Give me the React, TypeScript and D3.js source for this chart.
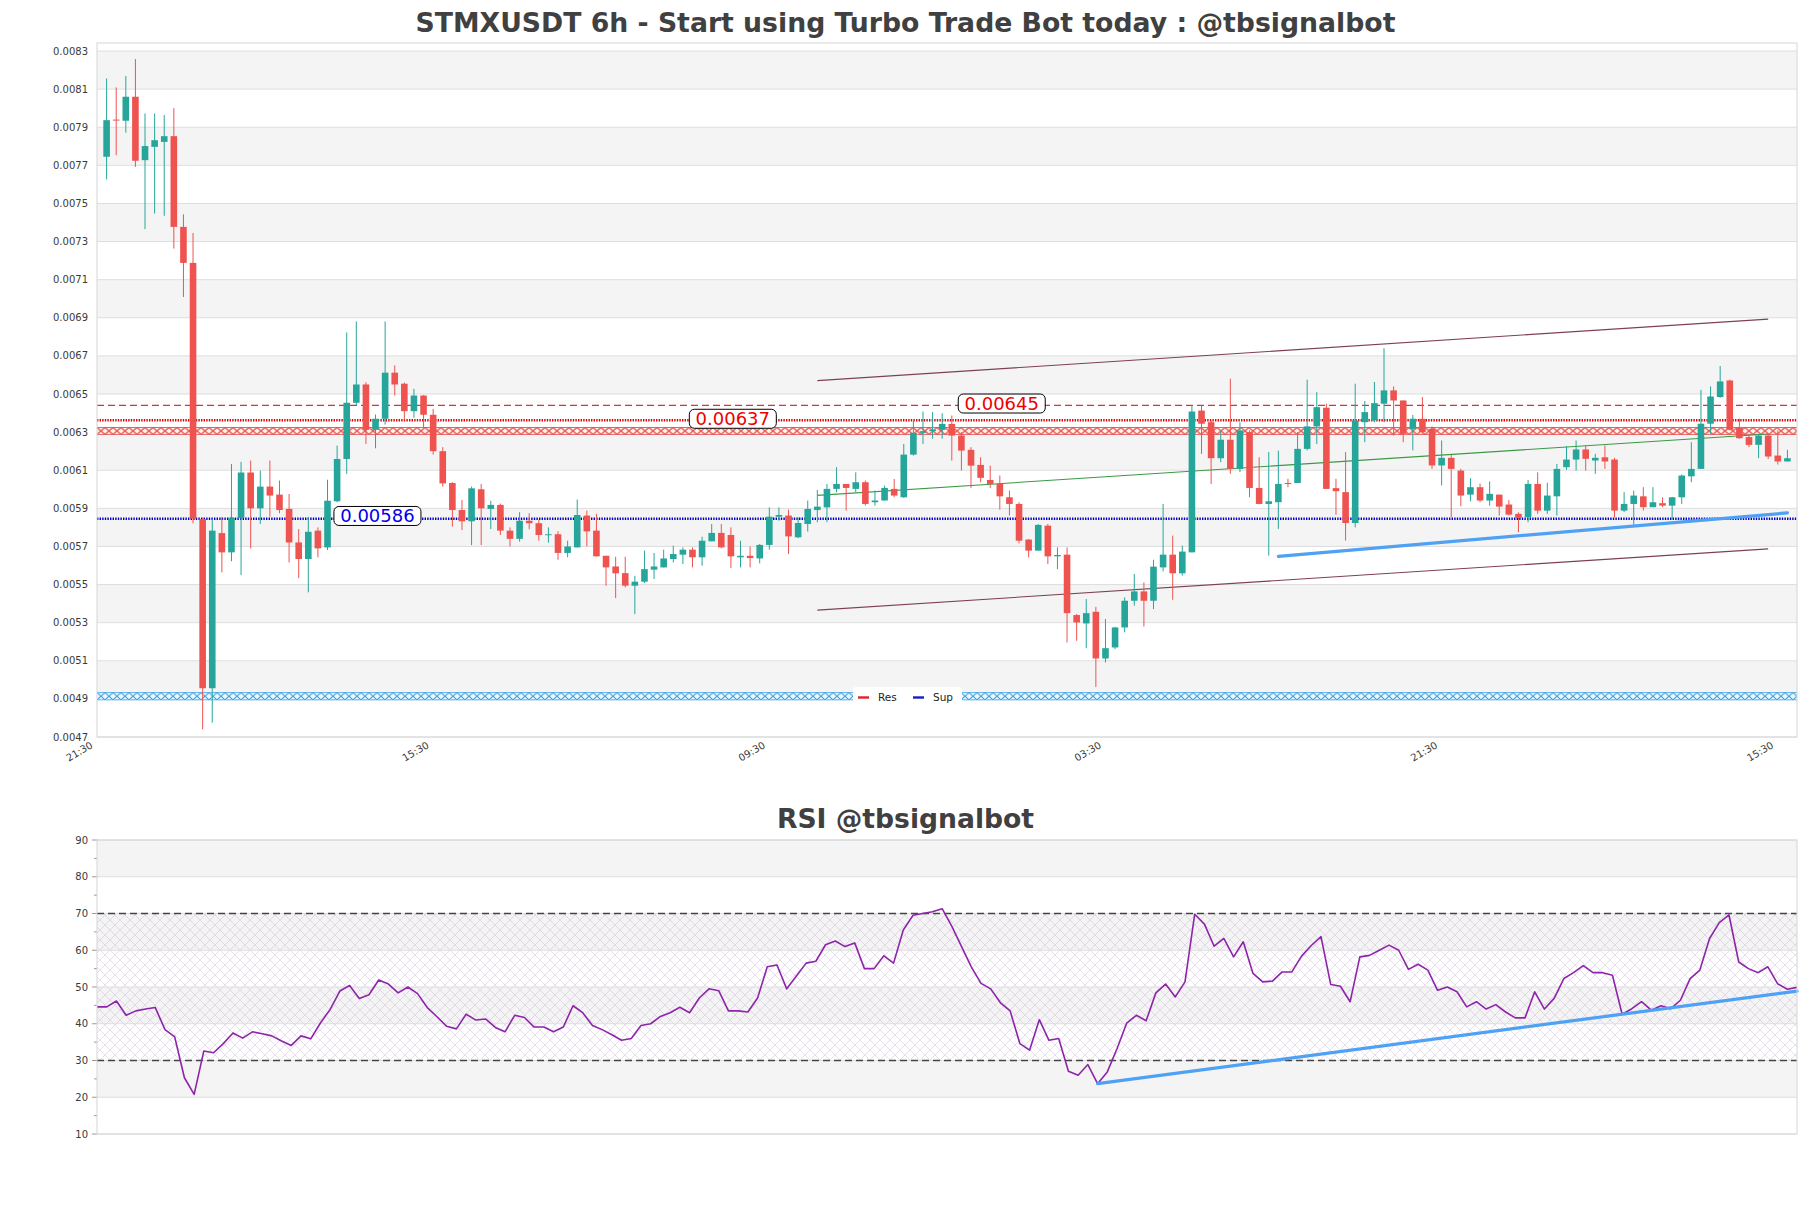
import React from "react";
import * as d3 from "d3";

// ---------------- DATA ----------------
const opens = [
  0.007745,0.00794,0.007934,0.00806,0.007727,0.007797,0.007823,0.007853,0.007377,0.007188,
  0.005844,0.004956,0.00577,0.005669,0.005849,0.006088,0.0059,0.006014,0.005972,0.005897,
  0.005721,0.005634,0.005783,0.005695,0.005937,0.006159,0.006454,0.00655,0.006312,0.00637,
  0.006612,0.006554,0.00641,0.006492,0.006391,0.0062,0.006033,0.005891,0.005832,0.006,
  0.005897,0.005918,0.005783,0.00574,0.005835,0.005822,0.00576,0.005764,0.005666,0.005695,
  0.005862,0.005783,0.005651,0.005595,0.00556,0.005494,0.005515,0.005578,0.00559,0.005634,
  0.005657,0.005683,0.005643,0.005727,0.005771,0.00576,0.005643,0.005651,0.005637,0.005708,
  0.005856,0.005862,0.005748,0.005818,0.005891,0.005905,0.006002,0.006028,0.006002,0.006037,
  0.005932,0.005941,0.006002,0.005958,0.006182,0.006296,0.006305,0.006312,0.006343,0.006282,
  0.006207,0.006128,0.006049,0.006028,0.005958,0.005923,0.005736,0.005678,0.005809,0.005648,
  0.005657,0.00534,0.005296,0.005357,0.005112,0.00517,0.005275,0.005415,0.005464,0.005415,
  0.00559,0.005657,0.005559,0.005669,0.006413,0.006352,0.006163,0.00626,0.006107,0.0063,
  0.006007,0.005923,0.005932,0.006033,0.006033,0.006212,0.00633,0.006428,0.006006,0.005985,
  0.005823,0.006352,0.006361,0.006449,0.006519,0.006466,0.006317,0.00637,0.006317,0.006125,
  0.006165,0.006098,0.005972,0.006011,0.005941,0.005972,0.00592,0.005871,0.005853,0.006028,
  0.005888,0.005963,0.006116,0.006156,0.006209,0.006151,0.006168,0.006156,0.005888,0.005923,
  0.005963,0.005906,0.005927,0.005914,0.005958,0.006068,0.006107,0.006344,0.006484,0.006571,
  0.006323,0.006274,0.006233,0.006282,0.006177,0.006146,
];
const highs = [
  0.008156,0.008109,0.008169,0.008258,0.007972,0.007972,0.007964,0.0080,0.007443,0.007345,
  0.00585,0.005844,0.005853,0.006133,0.006144,0.006151,0.006098,0.006151,0.006046,0.005975,
  0.005791,0.005853,0.0058,0.00605,0.006229,0.006823,0.006881,0.006562,0.006392,0.006881,
  0.00665,0.00656,0.006527,0.006494,0.006422,0.006221,0.006037,0.005944,0.006014,0.006028,
  0.00594,0.005925,0.0058,0.00588,0.005875,0.00584,0.0058,0.00578,0.00573,0.005946,
  0.005888,0.005871,0.005651,0.005646,0.005646,0.005546,0.005678,0.005666,0.005683,0.005704,
  0.005695,0.005695,0.005751,0.005818,0.005818,0.0058,0.00573,0.0057,0.005713,0.005905,
  0.005905,0.005893,0.005853,0.005941,0.005997,0.006028,0.006116,0.006028,0.006089,0.006046,
  0.005993,0.006019,0.006054,0.006238,0.006361,0.006408,0.006405,0.006399,0.006387,0.0063,
  0.006221,0.006168,0.006124,0.006072,0.005993,0.005932,0.005739,0.005818,0.005818,0.005695,
  0.005695,0.005345,0.005424,0.005383,0.005319,0.005278,0.005433,0.005555,0.005511,0.00563,
  0.005923,0.005757,0.005704,0.00644,0.00644,0.006361,0.006309,0.00658,0.006352,0.006309,
  0.006168,0.006195,0.006203,0.006055,0.0063,0.006575,0.00651,0.006449,0.006055,0.006195,
  0.006554,0.006463,0.006563,0.00674,0.00654,0.006466,0.00639,0.006484,0.00633,0.006256,
  0.00618,0.006107,0.006058,0.00603,0.006041,0.005972,0.005944,0.005879,0.006049,0.006089,
  0.006034,0.006133,0.006226,0.006256,0.00623,0.006186,0.00623,0.006165,0.005985,0.005993,
  0.006011,0.006011,0.005958,0.00596,0.006078,0.006247,0.006522,0.00654,0.006647,0.006575,
  0.00637,0.006285,0.00629,0.00629,0.006309,0.006207,
];
const lows = [
  0.007626,0.007753,0.007871,0.007692,0.007365,0.007447,0.007435,0.007263,0.007009,0.005821,
  0.00474,0.004775,0.005564,0.005622,0.00555,0.00569,0.005818,0.005856,0.005874,0.005616,
  0.005534,0.005459,0.005643,0.005681,0.005932,0.006081,0.00644,0.006238,0.006215,0.00634,
  0.006492,0.006361,0.006375,0.006326,0.006182,0.006014,0.005804,0.005786,0.005707,0.005707,
  0.005791,0.00576,0.0057,0.005725,0.00579,0.00573,0.00572,0.00563,0.005643,0.005695,
  0.0057,0.005648,0.005494,0.005429,0.005485,0.005345,0.005508,0.005529,0.00559,0.005616,
  0.005608,0.00559,0.005599,0.005727,0.00569,0.005587,0.00559,0.00559,0.005611,0.005683,
  0.005835,0.00566,0.005744,0.005778,0.005827,0.005827,0.005984,0.005888,0.005984,0.005914,
  0.005914,0.005941,0.005958,0.005955,0.006177,0.006238,0.006265,0.006265,0.006151,0.006098,
  0.006007,0.006037,0.006007,0.005893,0.005862,0.005716,0.005643,0.005678,0.005608,0.005581,
  0.005196,0.005205,0.005166,0.004963,0.005091,0.005161,0.005249,0.005389,0.00528,0.005371,
  0.005569,0.00542,0.005547,0.005669,0.006186,0.006028,0.006142,0.006081,0.00609,0.005958,
  0.005921,0.005652,0.005792,0.006011,0.006033,0.006204,0.006238,0.006002,0.005867,0.005731,
  0.0058,0.006247,0.006352,0.006352,0.006282,0.006247,0.006204,0.006291,0.006107,0.00602,
  0.005853,0.005911,0.005937,0.005932,0.005914,0.005862,0.005862,0.005774,0.005827,0.005871,
  0.005871,0.005862,0.006102,0.006098,0.006098,0.006081,0.006107,0.005853,0.00588,0.005809,
  0.005888,0.005906,0.005906,0.005844,0.005923,0.006037,0.006107,0.006291,0.00648,0.006309,
  0.006265,0.006221,0.006163,0.006159,0.00613,0.006146,
];
const closes = [
  0.007937,0.007935,0.00806,0.007724,0.007801,0.007832,0.007853,0.007377,0.007188,0.005846,
  0.004956,0.005783,0.005669,0.005849,0.006088,0.0059,0.006014,0.005967,0.005891,0.005721,
  0.005634,0.005777,0.00569,0.00594,0.006159,0.006454,0.00655,0.006312,0.00637,0.006612,
  0.00655,0.00641,0.006492,0.006391,0.0062,0.006031,0.005891,0.005832,0.006005,0.0059,
  0.005918,0.005783,0.00574,0.005835,0.005822,0.00576,0.005764,0.005666,0.0057,0.005865,
  0.005779,0.005648,0.00559,0.005559,0.005494,0.005515,0.005581,0.005595,0.005637,0.00566,
  0.005683,0.005643,0.00573,0.005771,0.005695,0.005648,0.005651,0.005639,0.005708,0.005856,
  0.005865,0.005753,0.005823,0.005897,0.005909,0.006002,0.006028,0.006007,0.006037,0.005923,
  0.005941,0.006007,0.005967,0.006182,0.006296,0.006305,0.006312,0.006343,0.006282,0.006203,
  0.006124,0.00606,0.006028,0.005963,0.005923,0.00573,0.005678,0.005813,0.005648,0.005655,
  0.00535,0.005301,0.00535,0.005112,0.005166,0.005275,0.005415,0.005464,0.005415,0.005594,
  0.005657,0.005559,0.005673,0.006408,0.006344,0.006163,0.00626,0.006107,0.006309,0.006007,
  0.005923,0.005937,0.006028,0.006028,0.006212,0.00633,0.006431,0.006002,0.00599,0.005823,
  0.006361,0.006405,0.006452,0.006519,0.006466,0.006291,0.00637,0.0063,0.006125,0.006165,
  0.006107,0.005967,0.006011,0.005941,0.005976,0.005909,0.005867,0.00585,0.006028,0.005888,
  0.005967,0.006107,0.006156,0.006209,0.00616,0.006165,0.006146,0.005888,0.005923,0.005967,
  0.005906,0.005932,0.005914,0.005958,0.006072,0.006107,0.006344,0.006487,0.006566,0.006312,
  0.006268,0.006233,0.006282,0.006172,0.006146,0.006163,
];
const rsiValues = [
  44.6,44.6,46.2,42.3,43.5,44.0,44.4,38.4,36.4,25.3,
  20.8,32.6,32.1,34.6,37.5,36.1,37.8,37.3,36.7,35.3,
  34.1,36.7,35.9,40.2,43.9,48.9,50.4,46.9,47.9,51.9,
  50.8,48.4,50.0,48.2,44.4,41.9,39.3,38.6,42.6,41.0,
  41.3,39.0,37.8,42.3,41.7,39.1,39.1,37.8,39.1,44.9,
  43.0,39.5,38.4,37.0,35.5,36.0,39.5,40.0,42.0,43.0,
  44.5,43.0,47.0,49.5,49.0,43.5,43.5,43.2,47.0,55.5,
  56.0,49.5,53.0,56.5,57.0,61.5,62.5,61.0,62.0,55.0,
  55.0,58.5,56.5,65.5,69.5,70.0,70.5,71.3,66.5,61.0,
  55.5,51.0,49.5,45.7,43.5,34.6,32.8,41.1,35.5,36.0,
  27.1,26.0,28.9,23.7,26.9,33.2,40.2,42.3,40.8,48.4,
  50.8,47.3,51.4,69.8,67.1,61.1,63.2,58.2,62.3,53.7,
  51.4,51.6,54.1,54.1,58.4,61.3,63.7,50.7,50.2,46.0,
  58.2,58.6,60.0,61.4,60.0,54.8,56.2,54.6,49.1,50.0,
  48.7,44.6,46.0,44.0,45.2,43.2,41.6,41.6,48.7,44.0,
  46.9,52.3,53.9,55.8,53.9,53.9,53.2,42.6,44.1,46.0,
  43.7,44.9,44.1,46.4,52.3,54.6,63.2,67.5,69.6,56.8,
  55.0,53.9,55.5,50.9,49.4,49.9,
];
const xTickLabels = ["21:30", "15:30", "09:30", "03:30", "21:30", "15:30"];
const xTickStep = 35; // candles between date labels
const priceTicks = [0.0047,0.0049,0.0051,0.0053,0.0055,0.0057,0.0059,0.0061,0.0063,0.0065,0.0067,0.0069,0.0071,0.0073,0.0075,0.0077,0.0079,0.0081,0.0083];
const rsiTicks = [10, 20, 30, 40, 50, 60, 70, 80, 90];
const rsiMinorTicks = [15, 25, 35, 45, 55, 65, 75, 85];

const resDashLevel = 0.00644;
const resDotLevel = 0.006362;
const resZone = [0.006288, 0.006324];
const supDotLevel = 0.005845;
const supZone = [0.004895, 0.004933];

const channelUpper = [{ i: 74, v: 0.00657 }, { i: 173, v: 0.006893 }];
const channelLower = [{ i: 74, v: 0.005366 }, { i: 173, v: 0.005687 }];
const channelMid = [{ i: 74, v: 0.005968 }, { i: 173, v: 0.00629 }];
const priceTrend = [{ i: 122, v: 0.005648 }, { i: 175, v: 0.005876 }];
const rsiTrend = [{ i: 103, v: 23.7 }, { i: 175, v: 48.9 }];

const priceLabels = [
  { text: "0.00586", i: 28.2, v: 0.00586, color: "#0000ee" },
  { text: "0.00637", i: 65.2, v: 0.00637, color: "#ee0000" },
  { text: "0.00645", i: 93.2, v: 0.00645, color: "#ee0000" },
];

// ---------------- LAYOUT ----------------
const W = 1811, H = 1208;
const PL = 97, PR = 1797, PT = 43, PB = 737;
const RT = 840, RB = 1134;
const FONT = "DejaVu Sans, Verdana, sans-serif";
const GREEN = "#26a69a", RED = "#ef5350";

export default function App() {
  const N = opens.length;
  const x = d3.scaleLinear().domain([-1, N]).range([PL, PR]);
  const y = d3.scaleLinear().domain([0.0047, 0.0083]).range([737, 51]);
  const xr = d3.scaleLinear().domain([0, N - 1]).range([PL, PR]);
  const yr = d3.scaleLinear().domain([10, 90]).range([RB, RT]);
  const fmt = d3.format(".4f");

  const bodyW = 6.6;
  const grayBands = priceTicks.filter((_, k) => k % 2 === 1 && k < priceTicks.length - 1);

  const lineP = d3.line<{ i: number; v: number }>().x((d) => x(d.i)).y((d) => y(d.v));
  const lineR = d3.line<{ i: number; v: number }>().x((d) => xr(d.i)).y((d) => yr(d.v));
  const rsiPath = d3.line<number>().x((_, i) => xr(i)).y((d) => yr(d))(rsiValues) || "";

  const resTop = y(resZone[1]), resBot = y(resZone[0]);
  const supTop = y(supZone[1]), supBot = y(supZone[0]);
  const resH = resBot - resTop, supH = supBot - supTop;
  const PW = 8;

  return (
    <svg width={W} height={H} style={{ position: "absolute", left: 0, top: 0, background: "#fff" }} fontFamily={FONT}>
      <defs>
        <pattern id="resHatch" patternUnits="userSpaceOnUse" x={PL} y={resTop} width={PW} height={resH}>
          <path d={`M0,0L${PW},${resH}M0,${resH}L${PW},0`} stroke="#e23b3b" strokeWidth={1.1} fill="none" />
        </pattern>
        <pattern id="supHatch" patternUnits="userSpaceOnUse" x={PL} y={supTop} width={PW} height={supH}>
          <path d={`M0,0L${PW},${supH}M0,${supH}L${PW},0`} stroke="#3a9fe0" strokeWidth={1.1} fill="none" />
        </pattern>
        <pattern id="rsiHatch" patternUnits="userSpaceOnUse" width={10} height={10}>
          <path d="M0,0L10,10M10,0L0,10" stroke="#c6b2d3" strokeWidth={0.6} fill="none" />
        </pattern>
        <clipPath id="priceClip"><rect x={PL} y={PT} width={PR - PL} height={PB - PT} /></clipPath>
      </defs>
      <rect x={0} y={0} width={W} height={H} fill="#fff" />

      {/* Titles */}
      <text x={W / 2} y={32} textAnchor="middle" fontSize={26.7} fontWeight="bold" fill="#404040">
        STMXUSDT 6h - Start using Turbo Trade Bot today : @tbsignalbot
      </text>
      <text x={W / 2} y={828} textAnchor="middle" fontSize={26.6} fontWeight="bold" fill="#404040">
        RSI @tbsignalbot
      </text>

      {/* ---------- PRICE PANEL ---------- */}
      {grayBands.map((t) => (
        <rect key={"b" + t} x={PL} y={y(t + 0.0002)} width={PR - PL} height={y(t) - y(t + 0.0002)} fill="#f4f4f4" />
      ))}
      {priceTicks.map((t) => (
        <line key={"g" + t} x1={PL} x2={PR} y1={y(t)} y2={y(t)} stroke="#dedede" strokeWidth={1} />
      ))}
      {priceTicks.map((t) => (
        <text key={"t" + t} x={88} y={y(t)} dy="0.35em" textAnchor="end" fontSize={10} fill="#3a3a3a">
          {fmt(t)}
        </text>
      ))}

      <g clipPath="url(#priceClip)">
        {/* zones */}
        <rect x={PL} y={resTop} width={PR - PL} height={resH} fill="#fff3ec" />
        <rect x={PL} y={resTop} width={PR - PL} height={resH} fill="url(#resHatch)" />
        <line x1={PL} x2={PR} y1={resTop} y2={resTop} stroke="#e23b3b" strokeWidth={0.8} />
        <line x1={PL} x2={PR} y1={resBot} y2={resBot} stroke="#e23b3b" strokeWidth={0.8} />
        <rect x={PL} y={supTop} width={PR - PL} height={supH} fill="#eef7fd" />
        <rect x={PL} y={supTop} width={PR - PL} height={supH} fill="url(#supHatch)" />
        <line x1={PL} x2={PR} y1={supTop} y2={supTop} stroke="#3a9fe0" strokeWidth={0.8} />
        <line x1={PL} x2={PR} y1={supBot} y2={supBot} stroke="#3a9fe0" strokeWidth={0.8} />

        {/* levels */}
        <line x1={PL} x2={PR} y1={y(resDashLevel)} y2={y(resDashLevel)} stroke="#e03030" strokeWidth={1.3} strokeDasharray="7,4" />
        <line x1={PL} x2={PR} y1={y(resDotLevel)} y2={y(resDotLevel)} stroke="#e00000" strokeWidth={2.4} strokeDasharray="1.4,1.2" />
        <line x1={PL} x2={PR} y1={y(supDotLevel)} y2={y(supDotLevel)} stroke="#0000cc" strokeWidth={2.4} strokeDasharray="1.4,1.2" />

        {/* channel */}
        <path d={lineP(channelUpper) || ""} stroke="#7f4050" strokeWidth={1.1} fill="none" />
        <path d={lineP(channelLower) || ""} stroke="#7f4050" strokeWidth={1.1} fill="none" />
        <path d={lineP(channelMid) || ""} stroke="#3a9a45" strokeWidth={1.1} fill="none" />

        {/* candles */}
        {opens.map((o, i) => {
          const c = closes[i];
          const hi = Math.max(highs[i], o, c);
          const lo = Math.min(lows[i], o, c);
          const col = c >= o ? GREEN : RED;
          const top = y(Math.max(o, c));
          const bh = Math.max(1, y(Math.min(o, c)) - top);
          return (
            <g key={"c" + i}>
              <line x1={x(i)} x2={x(i)} y1={y(hi)} y2={y(lo)} stroke={col} strokeWidth={1} />
              <rect x={x(i) - bodyW / 2} y={top} width={bodyW} height={bh} fill={col} />
            </g>
          );
        })}

        {/* support trend */}
        <path d={lineP(priceTrend) || ""} stroke="#4ea1f3" strokeWidth={3.2} fill="none" strokeLinecap="round" />
      </g>

      {/* price labels */}
      {priceLabels.map((l) => {
        const w = 87, h = 19;
        const cx = x(l.i), cy = y(l.v);
        return (
          <g key={l.text}>
            <rect x={cx - w / 2} y={cy - h / 2} width={w} height={h} rx={5} fill="#fff" stroke="#000" strokeWidth={1} />
            <text x={cx} y={cy} dy="0.36em" textAnchor="middle" fontSize={18} fill={l.color}>{l.text}</text>
          </g>
        );
      })}

      {/* legend */}
      <g>
        <rect x={853} y={687} width={109} height={20} rx={3} fill="#fff" />
        <line x1={858} x2={869} y1={697.5} y2={697.5} stroke="#dd2222" strokeWidth={2.4} />
        <text x={878} y={701} fontSize={10.5} fill="#222">Res</text>
        <line x1={913} x2={924} y1={697.5} y2={697.5} stroke="#1a1acc" strokeWidth={2.4} />
        <text x={933} y={701} fontSize={10.5} fill="#222">Sup</text>
      </g>

      <rect x={PL} y={PT} width={PR - PL} height={PB - PT} fill="none" stroke="#d6d6d6" strokeWidth={1} />

      {/* x tick labels */}
      {xTickLabels.map((lab, k) => {
        const tx = x(-1 + k * xTickStep);
        return (
          <text key={"x" + k} transform={`translate(${tx - 7},${741}) rotate(-30)`} textAnchor="end" dominantBaseline="hanging" fontSize={10} fill="#3a3a3a">
            {lab}
          </text>
        );
      })}

      {/* ---------- RSI PANEL ---------- */}
      {[80, 60, 40, 20].map((b) => (
        <rect key={"rb" + b} x={PL} y={yr(b + 10)} width={PR - PL} height={yr(b) - yr(b + 10)} fill="#f4f4f4" />
      ))}
      <rect x={PL} y={yr(70)} width={PR - PL} height={yr(30) - yr(70)} fill="url(#rsiHatch)" opacity={0.7} />
      {rsiTicks.map((t) => (
        <line key={"rg" + t} x1={PL} x2={PR} y1={yr(t)} y2={yr(t)} stroke="#dedede" strokeWidth={1} />
      ))}
      {rsiTicks.map((t) => (
        <g key={"rt" + t}>
          <line x1={PL - 5} x2={PL} y1={yr(t)} y2={yr(t)} stroke="#9a9a9a" strokeWidth={1} />
          <text x={88} y={yr(t)} dy="0.35em" textAnchor="end" fontSize={10} fill="#3a3a3a">{t}</text>
        </g>
      ))}
      {rsiMinorTicks.map((t) => (
        <line key={"rm" + t} x1={PL - 3} x2={PL} y1={yr(t)} y2={yr(t)} stroke="#9a9a9a" strokeWidth={1} />
      ))}
      <line x1={PL} x2={PR} y1={yr(70)} y2={yr(70)} stroke="#444" strokeWidth={1.3} strokeDasharray="7,4" />
      <line x1={PL} x2={PR} y1={yr(30)} y2={yr(30)} stroke="#444" strokeWidth={1.3} strokeDasharray="7,4" />
      <path d={rsiPath} stroke="#8e24aa" strokeWidth={1.6} fill="none" strokeLinejoin="round" />
      <path d={lineR(rsiTrend) || ""} stroke="#4ea1f3" strokeWidth={3.2} fill="none" strokeLinecap="round" />
      <rect x={PL} y={RT} width={PR - PL} height={RB - RT} fill="none" stroke="#d6d6d6" strokeWidth={1} />
    </svg>
  );
}
